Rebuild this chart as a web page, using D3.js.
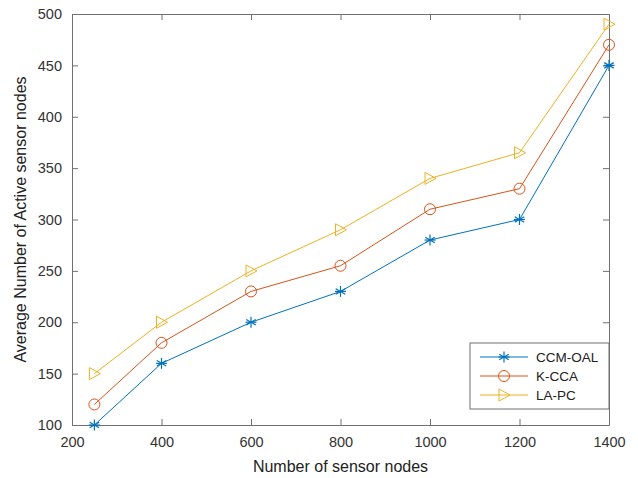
<!DOCTYPE html>
<html>
<head>
<meta charset="utf-8">
<script src="https://cdn.jsdelivr.net/npm/d3@7"></script>
<style>
  body { margin: 0; background: #fff; }
  text { font-family: "Liberation Sans", Arial, sans-serif; }
</style>
</head>
<body>
<script>
var nodes = [250, 400, 600, 800, 1000, 1200, 1400];
var ccmOal = [100, 160, 200, 230, 280, 300, 450];
var kCca = [120, 180, 230, 255, 310, 330, 470];
var laPc = [150, 200, 250, 290, 340, 365, 490];
var xTicks = [200, 400, 600, 800, 1000, 1200, 1400];
var yTicks = [100, 150, 200, 250, 300, 350, 400, 450, 500];

var series = [
  { name: "CCM-OAL", values: ccmOal, color: "#0072BD", marker: "star" },
  { name: "K-CCA", values: kCca, color: "#D95319", marker: "circle" },
  { name: "LA-PC", values: laPc, color: "#EDB120", marker: "tri" }
];

var width = 638, height = 478;
var margin = { top: 14, right: 29, bottom: 53, left: 72 };
var w = width - margin.left - margin.right,
    h = height - margin.top - margin.bottom;
var axisColor = "#707070";

var svg = d3.select("body").append("svg")
    .attr("width", width)
    .attr("height", height);

var g = svg.append("g")
    .attr("transform", "translate(" + margin.left + "," + margin.top + ")");

var x = d3.scaleLinear().domain([200, 1400]).range([0, w]);
var y = d3.scaleLinear().domain([100, 500]).range([h, 0]);

// axes, ticks pointing in like matlab
g.append("g")
    .attr("transform", "translate(0," + h + ")")
    .call(d3.axisBottom(x).tickValues(xTicks).tickFormat(d3.format("d"))
      .tickSizeInner(-6).tickSizeOuter(0).tickPadding(12));
g.append("g")
    .call(d3.axisLeft(y).tickValues(yTicks).tickFormat(d3.format("d"))
      .tickSizeInner(-6).tickSizeOuter(0).tickPadding(10));
g.append("g")
    .call(d3.axisTop(x).tickValues(xTicks).tickSizeInner(-6).tickSizeOuter(0).tickFormat(""));
g.append("g")
    .attr("transform", "translate(" + w + ",0)")
    .call(d3.axisRight(y).tickValues(yTicks).tickSizeInner(-6).tickSizeOuter(0).tickFormat(""));

g.selectAll(".domain, .tick line").attr("stroke", axisColor);
g.selectAll(".tick text")
    .attr("fill", "#333")
    .style("font-size", "14.5px");

var line = d3.line()
    .x(function(d, i) { return x(nodes[i]); })
    .y(function(d) { return y(d); });

var drawMarker = function(sel, type, color) {
  if (type === "star") {
    var r = 5.5;
    [0, 60, 120].forEach(function(a) {
      sel.append("line")
          .attr("x1", -r).attr("x2", r).attr("y1", 0).attr("y2", 0)
          .attr("transform", "rotate(" + (a + 90) + ")")
          .attr("stroke", color).attr("stroke-width", 1.2);
    });
    sel.append("line")
        .attr("x1", -r).attr("x2", r)
        .attr("stroke", color).attr("stroke-width", 1.2);
  } else if (type === "circle") {
    sel.append("circle").attr("r", 5.5)
        .attr("fill", "none").attr("stroke", color).attr("stroke-width", 1);
  } else {
    sel.append("path").attr("d", "M-5,-6L6,0L-5,6Z")
        .attr("fill", "none").attr("stroke", color).attr("stroke-width", 1);
  }
};

series.forEach(function(s) {
  g.append("path")
      .datum(s.values)
      .attr("fill", "none")
      .attr("stroke", s.color)
      .attr("stroke-width", 1)
      .attr("d", line);
  s.values.forEach(function(v, i) {
    var m = g.append("g").attr("transform", "translate(" + x(nodes[i]) + "," + y(v) + ")");
    drawMarker(m, s.marker, s.color);
  });
});

// legend
var legend = g.append("g")
    .attr("transform", "translate(" + (w - 139) + "," + (h - 82) + ")");
legend.append("rect")
    .attr("width", 139).attr("height", 66)
    .attr("fill", "#fff").attr("stroke", axisColor);
series.forEach(function(s, i) {
  var row = legend.append("g").attr("transform", "translate(0," + (14 + i * 19) + ")");
  row.append("line")
      .attr("x1", 10).attr("x2", 58)
      .attr("stroke", s.color).attr("stroke-width", 1);
  var m = row.append("g").attr("transform", "translate(34,0)");
  drawMarker(m, s.marker, s.color);
  row.append("text")
      .attr("x", 66).attr("dy", "0.35em")
      .attr("fill", "#222")
      .style("font-size", "13.5px")
      .text(s.name);
});

// axis titles
svg.append("text")
    .attr("x", margin.left + w / 2).attr("y", 472)
    .attr("text-anchor", "middle")
    .attr("fill", "#222")
    .style("font-size", "16px")
    .text("Number of sensor nodes");

svg.append("text")
    .attr("transform", "translate(26," + (margin.top + h / 2) + ") rotate(-90)")
    .attr("text-anchor", "middle")
    .attr("fill", "#222")
    .style("font-size", "16px")
    .text("Average Number of Active sensor nodes");
</script>
</body>
</html>
